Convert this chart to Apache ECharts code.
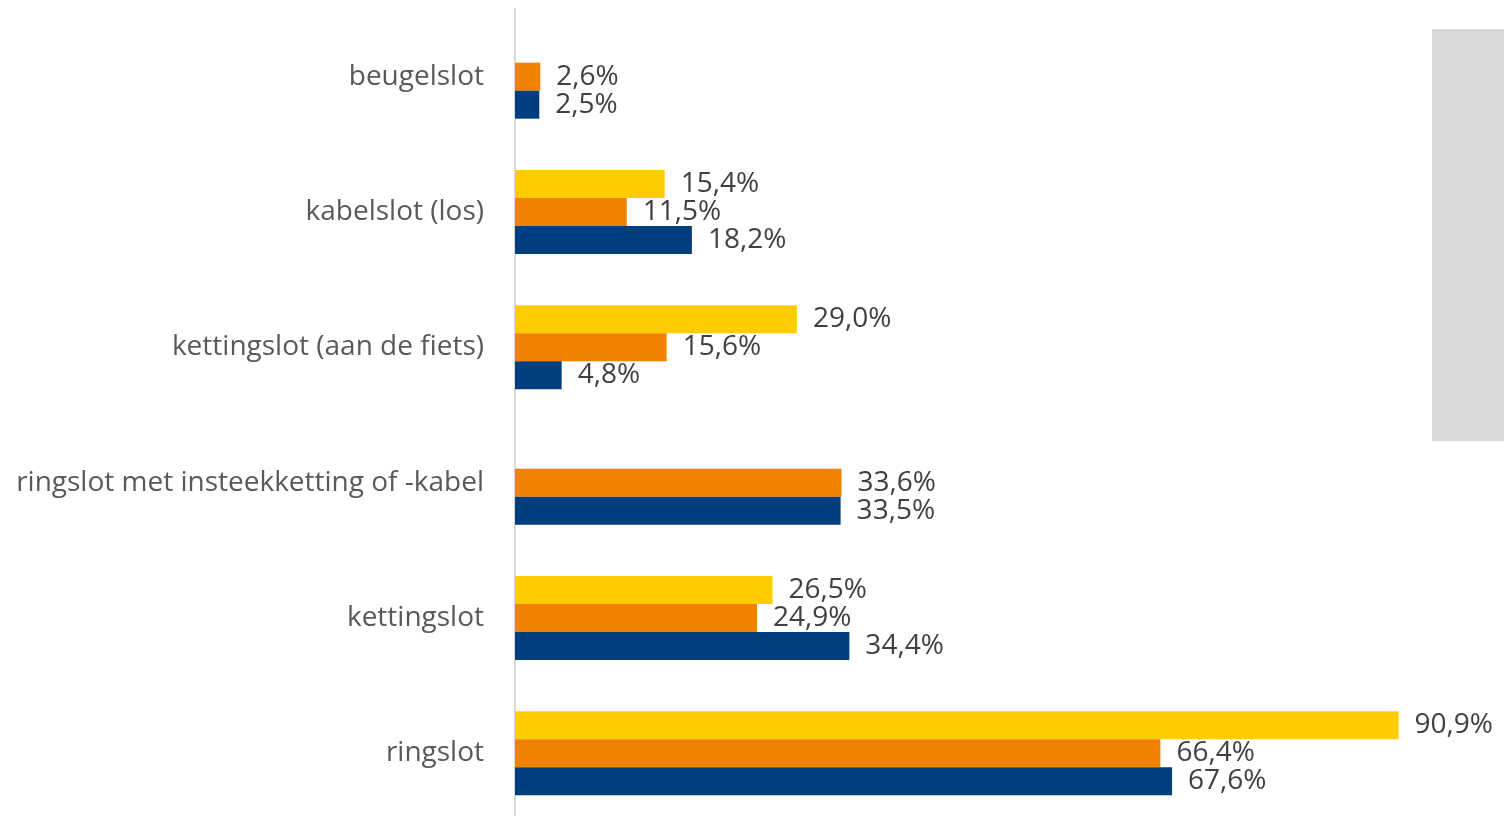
<!DOCTYPE html>
<html>
<head>
<meta charset="utf-8">
<script src="https://cdn.jsdelivr.net/npm/echarts@6/dist/echarts.min.js"></script>
<style>
  html, body { margin: 0; padding: 0; background: #fff; }
  #chart { width: 1504px; height: 816px; }
</style>
</head>
<body>
<div id="chart"></div>
<script>
// categorieën, van boven naar beneden
var categories = ['beugelslot', 'kabelslot (los)', 'kettingslot (aan de fiets)',
  'ringslot met insteekketting of -kabel', 'kettingslot', 'ringslot'];
// waarden in procenten
var serieGeel = [null, 15.4, 29.0, null, 26.5, 90.9];
var serieOranje = [2.6, 11.5, 15.6, 33.6, 24.9, 66.4];
var serieBlauw = [2.5, 18.2, 4.8, 33.5, 34.4, 67.6];

var chart = echarts.init(document.getElementById('chart'));
var fontFamily = '"Open Sans", sans-serif';

function labelFmt(p) {
  return p.value.toFixed(1).replace('.', ',') + '%';
}

function bar(name, data, color) {
  return {
    name: name,
    type: 'bar',
    data: data,
    barWidth: 28,
    barGap: '0%',
    itemStyle: { color: color },
    label: {
      show: true,
      position: 'right',
      distance: 16,
      formatter: labelFmt,
      color: '#404040',
      fontSize: 28,
      fontFamily: fontFamily
    },
    silent: true
  };
}

var option = {
  animation: false,
  grid: {
    left: 515,
    top: 9,
    width: 972,
    height: 812,
    containLabel: false,
    outerBoundsMode: 'none'
  },
  xAxis: {
    type: 'value',
    min: 0,
    max: 100,
    show: false
  },
  yAxis: {
    type: 'category',
    inverse: true,
    data: categories,
    axisLine: { show: true, lineStyle: { color: '#d9d9d9', width: 2 } },
    axisTick: { show: false },
    axisLabel: {
      color: '#595959',
      fontSize: 28,
      fontFamily: fontFamily,
      margin: 31
    }
  },
  graphic: [{
    type: 'rect',
    shape: { x: 1432, y: 29, width: 72, height: 412 },
    style: { fill: '#d9d9d9' },
    silent: true
  }],
  series: [
    bar('geel', serieGeel, '#ffcc00'),
    bar('oranje', serieOranje, '#f08200'),
    bar('blauw', serieBlauw, '#003f7f')
  ]
};
chart.setOption(option);
</script>
</body>
</html>
